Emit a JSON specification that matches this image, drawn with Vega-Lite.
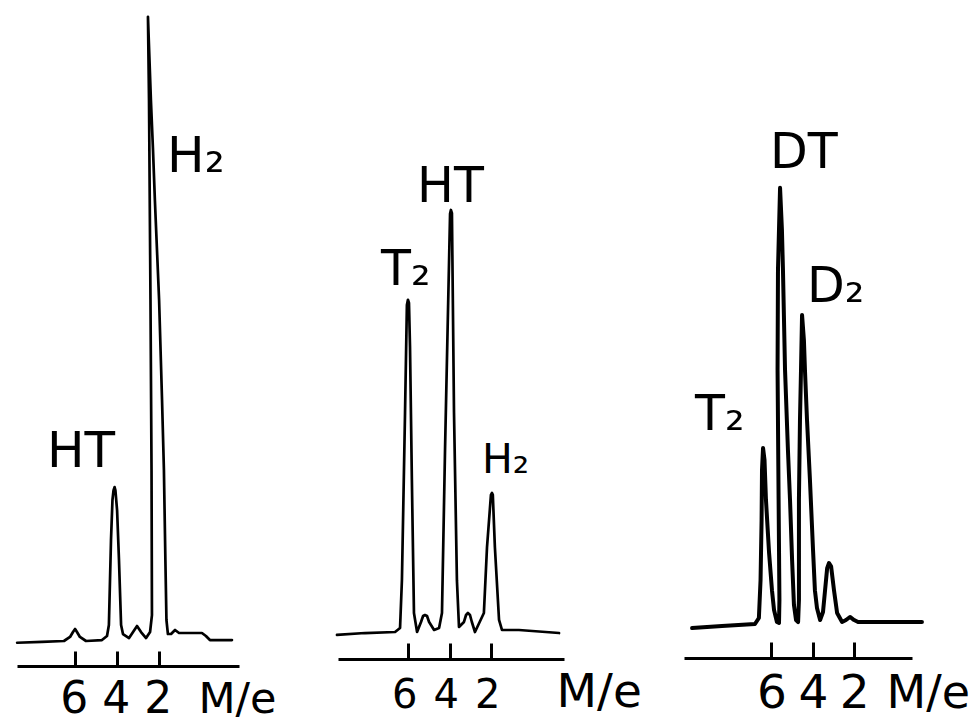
{
  "$schema": "https://vega.github.io/schema/vega-lite/v6.json",
  "background": "white",
  "padding": {"left": 15, "top": 0, "right": 0, "bottom": 0},
  "config": {"view": {"stroke": null}, "font": "DejaVu Sans"},
  "datasets": {
    "trace1": [
      {"i": 1, "me": 8.74, "intensity": 3.6},
      {"i": 2, "me": 7.56, "intensity": 3.72},
      {"i": 3, "me": 6.51, "intensity": 3.87},
      {"i": 4, "me": 6.22, "intensity": 4.49},
      {"i": 5, "me": 6.08, "intensity": 5.26},
      {"i": 6, "me": 5.98, "intensity": 5.73},
      {"i": 7, "me": 5.89, "intensity": 5.26},
      {"i": 8, "me": 5.75, "intensity": 4.49},
      {"i": 9, "me": 5.46, "intensity": 3.87},
      {"i": 10, "me": 4.70, "intensity": 4.02},
      {"i": 11, "me": 4.46, "intensity": 4.64},
      {"i": 12, "me": 4.37, "intensity": 6.35},
      {"i": 13, "me": 4.27, "intensity": 19.5},
      {"i": 14, "me": 4.2, "intensity": 25.7},
      {"i": 15, "me": 4.15, "intensity": 27.2},
      {"i": 16, "me": 4.1, "intensity": 27.7},
      {"i": 17, "me": 4.06, "intensity": 27.2},
      {"i": 18, "me": 3.98, "intensity": 24.1},
      {"i": 19, "me": 3.89, "intensity": 16.4},
      {"i": 20, "me": 3.79, "intensity": 6.35},
      {"i": 21, "me": 3.7, "intensity": 4.95},
      {"i": 22, "me": 3.41, "intensity": 4.33},
      {"i": 23, "me": 3.22, "intensity": 5.26},
      {"i": 24, "me": 3.03, "intensity": 6.19},
      {"i": 25, "me": 2.84, "intensity": 5.26},
      {"i": 26, "me": 2.6, "intensity": 4.33},
      {"i": 27, "me": 2.41, "intensity": 5.26},
      {"i": 28, "me": 2.32, "intensity": 7.89},
      {"i": 29, "me": 2.34, "intensity": 30.3},
      {"i": 30, "me": 2.39, "intensity": 56.7},
      {"i": 31, "me": 2.46, "intensity": 87.6},
      {"i": 32, "me": 2.51, "intensity": 100.5},
      {"i": 33, "me": 2.37, "intensity": 87.6},
      {"i": 34, "me": 2.27, "intensity": 79.9},
      {"i": 35, "me": 2.18, "intensity": 72.1},
      {"i": 36, "me": 1.98, "intensity": 56.7},
      {"i": 37, "me": 1.84, "intensity": 41.2},
      {"i": 38, "me": 1.75, "intensity": 30.3},
      {"i": 39, "me": 1.68, "intensity": 16.4},
      {"i": 40, "me": 1.63, "intensity": 7.12},
      {"i": 41, "me": 1.56, "intensity": 4.95},
      {"i": 42, "me": 1.41, "intensity": 4.95},
      {"i": 43, "me": 1.22, "intensity": 5.57},
      {"i": 44, "me": 1.03, "intensity": 5.11},
      {"i": 45, "me": -0.06, "intensity": 5.11},
      {"i": 46, "me": -0.25, "intensity": 4.64},
      {"i": 47, "me": -0.44, "intensity": 4.02},
      {"i": 48, "me": -1.49, "intensity": 4.02}
    ],
    "trace2": [
      {"i": 1, "me": 9.43, "intensity": 3.72},
      {"i": 2, "me": 8.08, "intensity": 4.02},
      {"i": 3, "me": 6.63, "intensity": 4.18},
      {"i": 4, "me": 6.39, "intensity": 4.8},
      {"i": 5, "me": 6.3, "intensity": 12.2},
      {"i": 6, "me": 6.15, "intensity": 38.1},
      {"i": 7, "me": 6.06, "intensity": 54.8},
      {"i": 8, "me": 6.01, "intensity": 55.6},
      {"i": 9, "me": 5.96, "intensity": 55.1},
      {"i": 10, "me": 5.91, "intensity": 48.3},
      {"i": 11, "me": 5.82, "intensity": 27.7},
      {"i": 12, "me": 5.72, "intensity": 7.12},
      {"i": 13, "me": 5.57, "intensity": 4.18},
      {"i": 14, "me": 5.38, "intensity": 5.73},
      {"i": 15, "me": 5.28, "intensity": 6.66},
      {"i": 16, "me": 5.19, "intensity": 6.81},
      {"i": 17, "me": 5.09, "intensity": 6.66},
      {"i": 18, "me": 4.99, "intensity": 5.73},
      {"i": 19, "me": 4.75, "intensity": 4.49},
      {"i": 20, "me": 4.51, "intensity": 4.8},
      {"i": 21, "me": 4.37, "intensity": 7.12},
      {"i": 22, "me": 4.22, "intensity": 32.8},
      {"i": 23, "me": 3.98, "intensity": 68.9},
      {"i": 24, "me": 3.94, "intensity": 69.5},
      {"i": 25, "me": 3.89, "intensity": 69.0},
      {"i": 26, "me": 3.79, "intensity": 38.1},
      {"i": 27, "me": 3.65, "intensity": 12.2},
      {"i": 28, "me": 3.55, "intensity": 4.95},
      {"i": 29, "me": 3.31, "intensity": 5.73},
      {"i": 30, "me": 3.21, "intensity": 6.81},
      {"i": 31, "me": 3.12, "intensity": 7.12},
      {"i": 32, "me": 3.02, "intensity": 6.81},
      {"i": 33, "me": 2.93, "intensity": 5.73},
      {"i": 34, "me": 2.78, "intensity": 4.18},
      {"i": 35, "me": 2.35, "intensity": 7.12},
      {"i": 36, "me": 2.2, "intensity": 17.3},
      {"i": 37, "me": 2.01, "intensity": 25.4},
      {"i": 38, "me": 1.96, "intensity": 25.7},
      {"i": 39, "me": 1.92, "intensity": 25.4},
      {"i": 40, "me": 1.82, "intensity": 17.3},
      {"i": 41, "me": 1.62, "intensity": 6.04},
      {"i": 42, "me": 1.48, "intensity": 4.49},
      {"i": 43, "me": 0.66, "intensity": 4.49},
      {"i": 44, "me": -1.27, "intensity": 4.02}
    ],
    "trace3": [
      {"i": 1, "me": 9.82, "intensity": 4.64},
      {"i": 2, "me": 8.38, "intensity": 4.95},
      {"i": 3, "me": 6.79, "intensity": 5.26},
      {"i": 4, "me": 6.6, "intensity": 6.19},
      {"i": 5, "me": 6.52, "intensity": 12.07},
      {"i": 6, "me": 6.47, "intensity": 21.4},
      {"i": 7, "me": 6.45, "intensity": 29.1},
      {"i": 8, "me": 6.4, "intensity": 32.5},
      {"i": 9, "me": 6.33, "intensity": 30.7},
      {"i": 10, "me": 6.26, "intensity": 24.5},
      {"i": 11, "me": 6.11, "intensity": 16.3},
      {"i": 12, "me": 5.97, "intensity": 10.5},
      {"i": 13, "me": 5.87, "intensity": 7.43},
      {"i": 14, "me": 5.73, "intensity": 5.57},
      {"i": 15, "me": 5.63, "intensity": 5.42},
      {"i": 16, "me": 5.61, "intensity": 8.98},
      {"i": 17, "me": 5.65, "intensity": 24.5},
      {"i": 18, "me": 5.7, "intensity": 44.6},
      {"i": 19, "me": 5.68, "intensity": 60.1},
      {"i": 20, "me": 5.58, "intensity": 72.8},
      {"i": 21, "me": 5.49, "intensity": 66.3},
      {"i": 22, "me": 5.44, "intensity": 60.1},
      {"i": 23, "me": 5.34, "intensity": 44.6},
      {"i": 24, "me": 5.2, "intensity": 32.2},
      {"i": 25, "me": 5.1, "intensity": 24.5},
      {"i": 26, "me": 5.0, "intensity": 15.2},
      {"i": 27, "me": 4.91, "intensity": 8.2},
      {"i": 28, "me": 4.81, "intensity": 5.88},
      {"i": 29, "me": 4.71, "intensity": 5.57},
      {"i": 30, "me": 4.67, "intensity": 8.98},
      {"i": 31, "me": 4.67, "intensity": 24.5},
      {"i": 32, "me": 4.62, "intensity": 36.8},
      {"i": 33, "me": 4.57, "intensity": 44.6},
      {"i": 34, "me": 4.52, "intensity": 53.1},
      {"i": 35, "me": 4.43, "intensity": 49.2},
      {"i": 36, "me": 4.38, "intensity": 44.6},
      {"i": 37, "me": 4.28, "intensity": 36.8},
      {"i": 38, "me": 4.14, "intensity": 27.6},
      {"i": 39, "me": 3.99, "intensity": 16.7},
      {"i": 40, "me": 3.9, "intensity": 10.5},
      {"i": 41, "me": 3.8, "intensity": 7.74},
      {"i": 42, "me": 3.65, "intensity": 5.88},
      {"i": 43, "me": 3.51, "intensity": 7.12},
      {"i": 44, "me": 3.41, "intensity": 10.5},
      {"i": 45, "me": 3.31, "intensity": 13.9},
      {"i": 46, "me": 3.22, "intensity": 14.7},
      {"i": 47, "me": 3.12, "intensity": 14.2},
      {"i": 48, "me": 2.98, "intensity": 10.5},
      {"i": 49, "me": 2.83, "intensity": 6.97},
      {"i": 50, "me": 2.59, "intensity": 5.57},
      {"i": 51, "me": 2.4, "intensity": 5.88},
      {"i": 52, "me": 2.21, "intensity": 6.35},
      {"i": 53, "me": 2.01, "intensity": 5.88},
      {"i": 54, "me": 1.82, "intensity": 5.57},
      {"i": 55, "me": 0.66, "intensity": 5.57},
      {"i": 56, "me": -1.26, "intensity": 5.57}
    ],
    "labels": [
      {"panel": 1, "size": "big", "me": 7.32, "intensity": 30.8, "label": "HT"},
      {"panel": 1, "size": "big", "me": 1.6, "intensity": 76.5, "label": "H₂"},
      {"panel": 2, "size": "big", "me": 5.57, "intensity": 70.7, "label": "HT"},
      {"panel": 2, "size": "big", "me": 7.31, "intensity": 57.9, "label": "T₂"},
      {"panel": 2, "size": "small", "me": 2.44, "intensity": 28.8, "label": "H₂"},
      {"panel": 3, "size": "big", "me": 6.06, "intensity": 75.9, "label": "DT"},
      {"panel": 3, "size": "big", "me": 4.28, "intensity": 55.1, "label": "D₂"},
      {"panel": 3, "size": "big", "me": 9.68, "intensity": 35.3, "label": "T₂"}
    ]
  },
  "bounds": "flush",
  "spacing": 99,
  "hconcat": [
    {
      "width": 222,
      "height": 666,
      "encoding": {
        "x": {
          "field": "me", "type": "quantitative",
          "scale": {"domain": [-1.825, 8.746], "reverse": true, "nice": false, "zero": false},
          "axis": {
            "values": [6, 4, 2], "grid": false,
            "domainColor": "black", "domainWidth": 3,
            "tickColor": "black", "tickWidth": 3, "tickSize": -15,
            "labelFont": "DejaVu Sans", "labelFontSize": 44, "labelColor": "black", "labelOffset": -1,
            "labelBaseline": "alphabetic", "labelPadding": 61, "labelFlush": false, "labelOverlap": false,
            "title": "M/e", "titleFont": "DejaVu Sans", "titleFontSize": 43, "titleFontWeight": "normal", "titleColor": "black",
            "titleX": 181, "titleY": 46, "titleAlign": "left", "titleBaseline": "alphabetic", "titleAnchor": "start"
          }
        },
        "y": {"field": "intensity", "type": "quantitative", "scale": {"domain": [0, 103.1], "nice": false, "zero": false}, "axis": null}
      },
      "layer": [
        {
          "data": {"name": "trace1"},
          "mark": {"type": "line", "color": "black", "strokeWidth": 2.7, "strokeCap": "round", "strokeJoin": "round"},
          "encoding": {"order": {"field": "i", "type": "quantitative"}}
        },
        {
          "data": {"name": "labels"},
          "transform": [{"filter": "datum.panel == 1"}],
          "mark": {"type": "text", "align": "left", "baseline": "alphabetic", "fontSize": 50, "font": "DejaVu Sans", "color": "black"},
          "encoding": {"text": {"field": "label"}}
        }
      ]
    },
    {
      "bounds": "flush",
      "spacing": 120,
      "hconcat": [
        {
          "width": 226,
          "height": 659,
          "encoding": {
            "x": {
              "field": "me", "type": "quantitative",
              "scale": {"domain": [-1.51, 9.38], "reverse": true, "nice": false, "zero": false},
              "axis": {
                "values": [6, 4, 2], "grid": false,
                "domainColor": "black", "domainWidth": 3,
                "tickColor": "black", "tickWidth": 3, "tickSize": -16,
                "labelFont": "DejaVu Sans", "labelFontSize": 40, "labelColor": "black", "labelOffset": -4,
                "labelBaseline": "alphabetic", "labelPadding": 64, "labelFlush": false, "labelOverlap": false,
                "title": "M/e", "titleFont": "DejaVu Sans", "titleFontSize": 47, "titleFontWeight": "normal", "titleColor": "black",
                "titleX": 218, "titleY": 47, "titleAlign": "left", "titleBaseline": "alphabetic", "titleAnchor": "start"
              }
            },
            "y": {"field": "intensity", "type": "quantitative", "scale": {"domain": [0, 102.0], "nice": false, "zero": false}, "axis": null}
          },
          "layer": [
            {
              "data": {"name": "trace2"},
              "mark": {"type": "line", "color": "black", "strokeWidth": 2.7, "strokeCap": "round", "strokeJoin": "round"},
              "encoding": {"order": {"field": "i", "type": "quantitative"}}
            },
            {
              "data": {"name": "labels"},
              "transform": [{"filter": "datum.panel == 2 && datum.size == 'big'"}],
              "mark": {"type": "text", "align": "left", "baseline": "alphabetic", "fontSize": 49, "font": "DejaVu Sans", "color": "black"},
              "encoding": {"text": {"field": "label"}}
            },
            {
              "data": {"name": "labels"},
              "transform": [{"filter": "datum.panel == 2 && datum.size == 'small'"}],
              "mark": {"type": "text", "align": "left", "baseline": "alphabetic", "fontSize": 41, "font": "DejaVu Sans", "color": "black"},
              "encoding": {"text": {"field": "label"}}
            }
          ]
        },
        {
          "width": 228,
          "height": 658,
          "encoding": {
            "x": {
              "field": "me", "type": "quantitative",
              "scale": {"domain": [-0.78, 10.21], "reverse": true, "nice": false, "zero": false},
              "axis": {
                "values": [6, 4, 2], "grid": false,
                "domainColor": "black", "domainWidth": 3,
                "tickColor": "black", "tickWidth": 3, "tickSize": -16,
                "labelFont": "DejaVu Sans", "labelFontSize": 47, "labelColor": "black",
                "labelBaseline": "alphabetic", "labelPadding": 65, "labelFlush": false, "labelOverlap": false,
                "title": "M/e", "titleFont": "DejaVu Sans", "titleFontSize": 46, "titleFontWeight": "normal", "titleColor": "black",
                "titleX": 202, "titleY": 49, "titleAlign": "left", "titleBaseline": "alphabetic", "titleAnchor": "start"
              }
            },
            "y": {"field": "intensity", "type": "quantitative", "scale": {"domain": [0, 101.86], "nice": false, "zero": false}, "axis": null}
          },
          "layer": [
            {
              "data": {"name": "trace3"},
              "mark": {"type": "line", "color": "black", "strokeWidth": 4, "strokeCap": "round", "strokeJoin": "round"},
              "encoding": {"order": {"field": "i", "type": "quantitative"}}
            },
            {
              "data": {"name": "labels"},
              "transform": [{"filter": "datum.panel == 3"}],
              "mark": {"type": "text", "align": "left", "baseline": "alphabetic", "fontSize": 49, "font": "DejaVu Sans", "color": "black"},
              "encoding": {"text": {"field": "label"}}
            }
          ]
        }
      ]
    }
  ]
}
